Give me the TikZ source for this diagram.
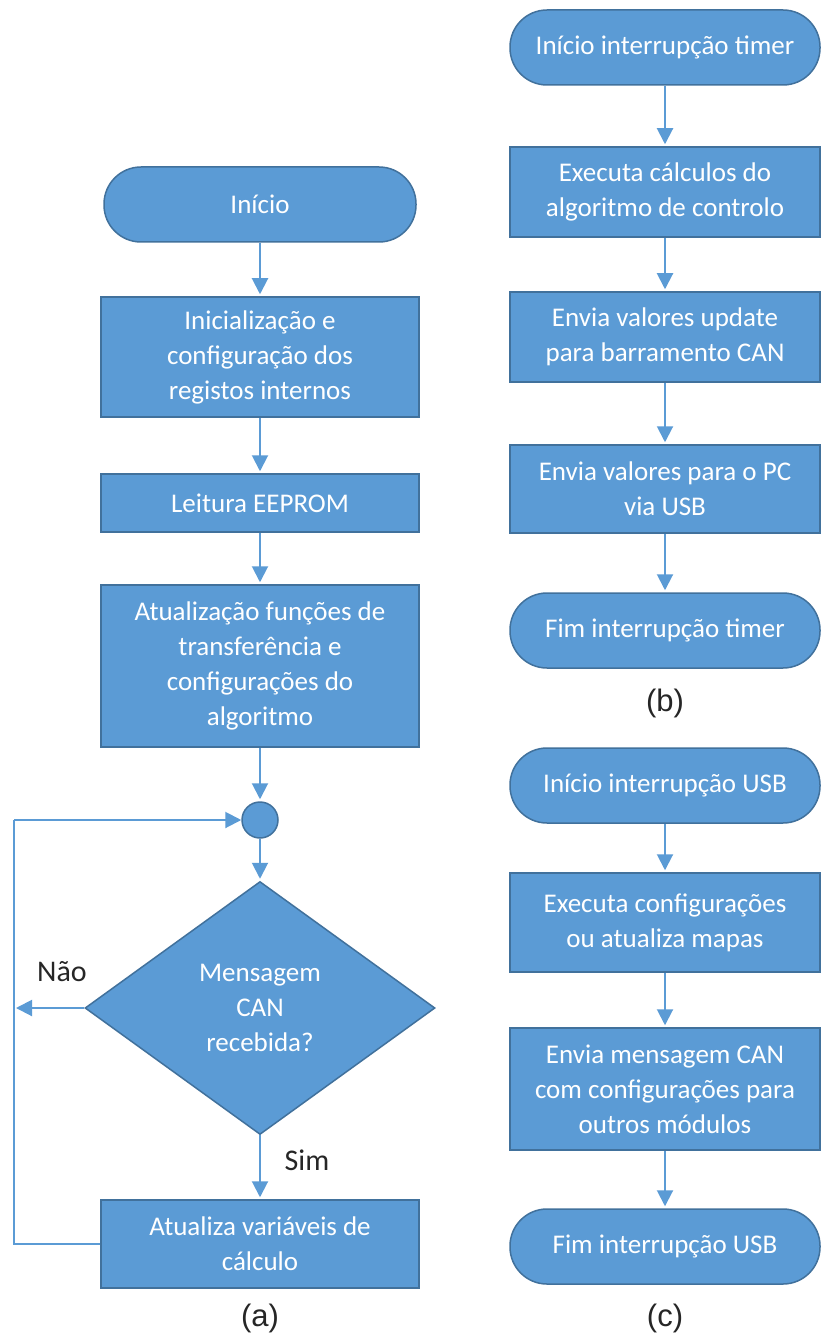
\documentclass[tikz,border=0pt]{standalone}
\usepackage{fontspec}
\setmainfont{Carlito}
\newfontfamily\capfont{Liberation Sans}
\usetikzlibrary{shapes.geometric,arrows.meta}
\definecolor{flowfill}{HTML}{5B9BD5}
\definecolor{flowedge}{HTML}{41719C}
\definecolor{flowline}{HTML}{5B9BD5}
\definecolor{labeltext}{HTML}{262626}
\tikzset{
  blockbox/.style={draw=flowedge, fill=flowfill, line width=1.5pt, inner sep=0pt,
    align=center, text=white, font=\fontsize{27}{35}\selectfont},
  procbox/.style={blockbox, minimum width=318pt},
  rprocbox/.style={blockbox, minimum width=310pt},
  termbox/.style={blockbox, minimum height=75pt, rounded corners=37pt},
  joinpt/.style={blockbox, circle, minimum size=36pt},
  decbox/.style={blockbox, diamond, minimum width=350pt, minimum height=253pt, aspect=1.38},
  wire/.style={draw=flowline, line width=2pt},
  flow/.style={wire, shorten >=2pt, -{Triangle[length=16pt,width=16pt]}},
  branchlabel/.style={text=labeltext, font=\fontsize{30}{36}\selectfont},
  caplabel/.style={text=labeltext, font=\capfont\fontsize{31}{36}\selectfont}
}
\begin{document}
\begin{tikzpicture}[x=1pt,y=-1pt]
  \useasboundingbox[fill=white] (0,0) rectangle (821,1337);

  % (a) main program
  \node[termbox, minimum width=312pt] (ini) at (260,204.5) {Início};
  \node[procbox, minimum height=120pt] (init) at (260,357) {Inicialização e\\configuração dos\\registos internos};
  \node[procbox, minimum height=58pt] (leit) at (260,503) {Leitura EEPROM};
  \node[procbox, minimum height=162pt] (atual) at (260,666) {Atualização funções de\\transferência e\\configurações do\\algoritmo};
  \node[joinpt] (circ) at (260,820) {};
  \node[decbox] (dec) at (260,1008) {Mensagem\\CAN\\recebida?};
  \node[procbox, minimum height=88pt] (upd) at (260,1244) {Atualiza variáveis de\\cálculo};
  \coordinate (lt) at (14,820);
  \coordinate (lb) at (14,1244);

  \draw[flow] (ini) -- (init);
  \draw[flow] (init) -- (leit);
  \draw[flow] (leit) -- (atual);
  \draw[flow] (atual) -- (circ);
  \draw[flow] (circ) -- (dec);
  \draw[flow] (dec) -- (upd);
  \draw[flow] (dec.west) -- (dec.west -| lt);
  \draw[wire] (upd.west) -- (lb) -- (lt);
  \draw[flow, shorten >=0pt] (lt) -- (circ.west);

  \node[branchlabel] (nao) at (62,972) {Não};
  \node[branchlabel] (sim) at (307,1160) {Sim};
  \node[caplabel] (capa) at (260,1318) {(a)};

  % (b) timer interrupt
  \node[termbox, minimum width=310pt] (tini) at (665,47.5) {Início interrupção timer};
  \node[rprocbox, minimum height=90pt] (ex1) at (665,192) {Executa cálculos do\\algoritmo de controlo};
  \node[rprocbox, minimum height=90pt] (env1) at (665,337) {Envia valores update\\para barramento CAN};
  \node[rprocbox, minimum height=88pt] (env2) at (665,489) {Envia valores para o PC\\via USB};
  \node[termbox, minimum width=310pt] (tfim) at (665,630.5) {Fim interrupção timer};
  \draw[flow] (tini) -- (ex1);
  \draw[flow] (ex1) -- (env1);
  \draw[flow] (env1) -- (env2);
  \draw[flow] (env2) -- (tfim);
  \node[caplabel] (capb) at (665,703) {(b)};

  % (c) USB interrupt
  \node[termbox, minimum width=310pt] (uini) at (665,785.5) {Início interrupção USB};
  \node[rprocbox, minimum height=99pt] (exc) at (665,922.5) {Executa configurações\\ou atualiza mapas};
  \node[rprocbox, minimum height=122pt] (envc) at (665,1089) {Envia mensagem CAN\\com configurações para\\outros módulos};
  \node[termbox, minimum width=310pt] (ufim) at (665,1246.5) {Fim interrupção USB};
  \draw[flow] (uini) -- (exc);
  \draw[flow] (exc) -- (envc);
  \draw[flow] (envc) -- (ufim);
  \node[caplabel] (capc) at (665,1318) {(c)};
\end{tikzpicture}
\end{document}
